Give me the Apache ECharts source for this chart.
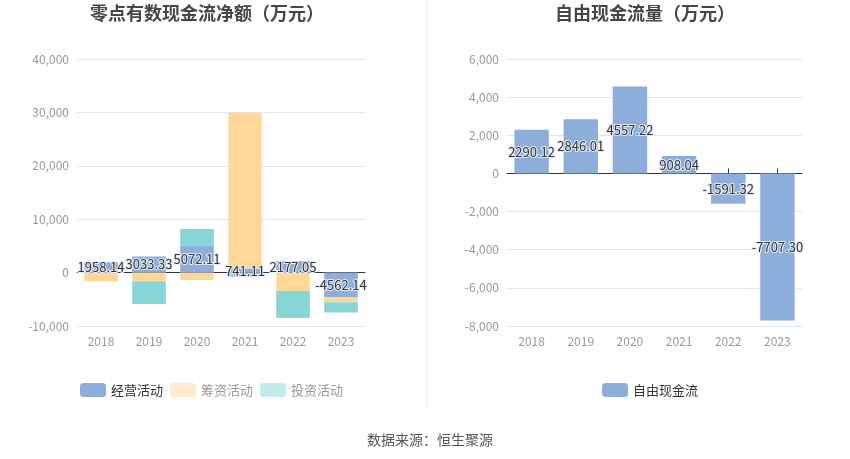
<!DOCTYPE html>
<html><head><meta charset="utf-8">
<script src="https://cdn.jsdelivr.net/npm/echarts@6/dist/echarts.min.js"></script>
<style>html,body{margin:0;padding:0;background:#fff}#c{width:850px;height:459px}</style>
</head><body><div id="c"></div>
<script>
var years = ['2018','2019','2020','2021','2022','2023'];
var operating = [1958.14, 3033.33, 5072.11, 741.11, 2177.05, -4562.14];
var financing = [-1630, -1630, -1400, 29200, -3450, -1000];
var investing = [0, -4250, 3100, -800, -5060, -1900];
var freeCash = [2290.12, 2846.01, 4557.22, 908.04, -1591.32, -7707.30];
var leftTicks = [-10000, 40000, 10000];
var rightTicks = [-8000, 6000, 2000];

var FONT = '"Noto Sans CJK SC", "Noto Sans", sans-serif';
var C_BLUE = '#8DADDB', C_ORANGE = '#FFD899', C_TEAL = '#88D5D8';
var chart = echarts.init(document.getElementById('c'), null, {renderer: 'canvas'});
function fmt(v){ return v.toLocaleString('en-US'); }
var yLab = {color:'#999', fontSize:12, fontFamily:FONT, formatter: fmt};
var grid0 = {left:77, right:485, top:59, bottom:133};
var grid1 = {left:507, right:48, top:59, bottom:133};
var lbl = function(){ return {show:true, position:'inside', color:'#333', fontSize:13, fontFamily:FONT,
  textBorderColor:'#E4ECF7', textBorderWidth:2, formatter:function(p){return p.value.toFixed(2);}}; };

chart.setOption({
  animation:false,
  textStyle:{fontFamily:FONT},
  title:[
    {text:'零点有数现金流净额（万元）', left:202, top:-1, textAlign:'center', textStyle:{fontSize:18, fontWeight:'bold', color:'#464646', fontFamily:FONT}},
    {text:'自由现金流量（万元）', left:640, top:-1, textAlign:'center', textStyle:{fontSize:18, fontWeight:'bold', color:'#464646', fontFamily:FONT}},
    {text:'数据来源：恒生聚源', left:425, top:428, textAlign:'center', textStyle:{fontSize:14, fontWeight:'normal', color:'#555', fontFamily:FONT}}
  ],
  graphic:[{type:'line', shape:{x1:427, y1:0, x2:427, y2:408}, style:{stroke:'#eeeeee', lineWidth:1}}],
  legend:[
    {left:75, top:378, itemWidth:26, itemHeight:14, itemGap:7, icon:'roundRect',
     textStyle:{fontSize:13, color:'#333', fontFamily:FONT},
     data:[{name:'经营活动', itemStyle:{color:C_BLUE}},
           {name:'筹资活动', itemStyle:{color:'#FFEBCC'}, textStyle:{color:'#999'}},
           {name:'投资活动', itemStyle:{color:'#C3EBEC'}, textStyle:{color:'#999'}}]},
    {left:597, top:378, itemWidth:26, itemHeight:14, icon:'roundRect',
     textStyle:{fontSize:13, color:'#333', fontFamily:FONT},
     data:[{name:'自由现金流', itemStyle:{color:C_BLUE}}]}
  ],
  grid:[grid0, grid1],
  xAxis:[
    {type:'category', gridIndex:0, data:years, position:'bottom',
     axisLine:{onZero:false, show:false}, axisTick:{show:false},
     axisLabel:{color:'#999', fontSize:12, margin:9}},
    {type:'category', gridIndex:0, data:years,
     axisLine:{onZero:true, lineStyle:{color:'#333'}}, axisTick:{show:false}, axisLabel:{show:false}},
    {type:'category', gridIndex:1, data:years, position:'bottom',
     axisLine:{onZero:false, show:false}, axisTick:{show:false},
     axisLabel:{color:'#999', fontSize:12, margin:9}},
    {type:'category', gridIndex:1, data:years,
     axisLine:{onZero:true, lineStyle:{color:'#333'}}, axisTick:{show:true, alignWithLabel:true, lineStyle:{color:'#333'}}, axisLabel:{show:false}}
  ],
  yAxis:[
    {type:'value', gridIndex:0, min:leftTicks[0], max:leftTicks[1], interval:leftTicks[2],
     axisLabel:yLab, splitLine:{lineStyle:{color:'#E0E6F1'}}},
    {type:'value', gridIndex:1, min:rightTicks[0], max:rightTicks[1], interval:rightTicks[2],
     axisLabel:yLab, splitLine:{lineStyle:{color:'#E0E6F1'}}}
  ],
  series:[
    {name:'经营活动', type:'bar', xAxisIndex:1, yAxisIndex:0, stack:'cf', data:operating, barWidth:'70%',
     itemStyle:{color:C_BLUE}, label:lbl(), z:3},
    {name:'筹资活动', type:'bar', xAxisIndex:1, yAxisIndex:0, stack:'cf', data:financing,
     itemStyle:{color:C_ORANGE}, z:2},
    {name:'投资活动', type:'bar', xAxisIndex:1, yAxisIndex:0, stack:'cf', data:investing,
     itemStyle:{color:C_TEAL}, z:2},
    {name:'自由现金流', type:'bar', xAxisIndex:3, yAxisIndex:1, data:freeCash, barWidth:'70%',
     itemStyle:{color:C_BLUE}, label:lbl()}
  ]
});
</script></body></html>
